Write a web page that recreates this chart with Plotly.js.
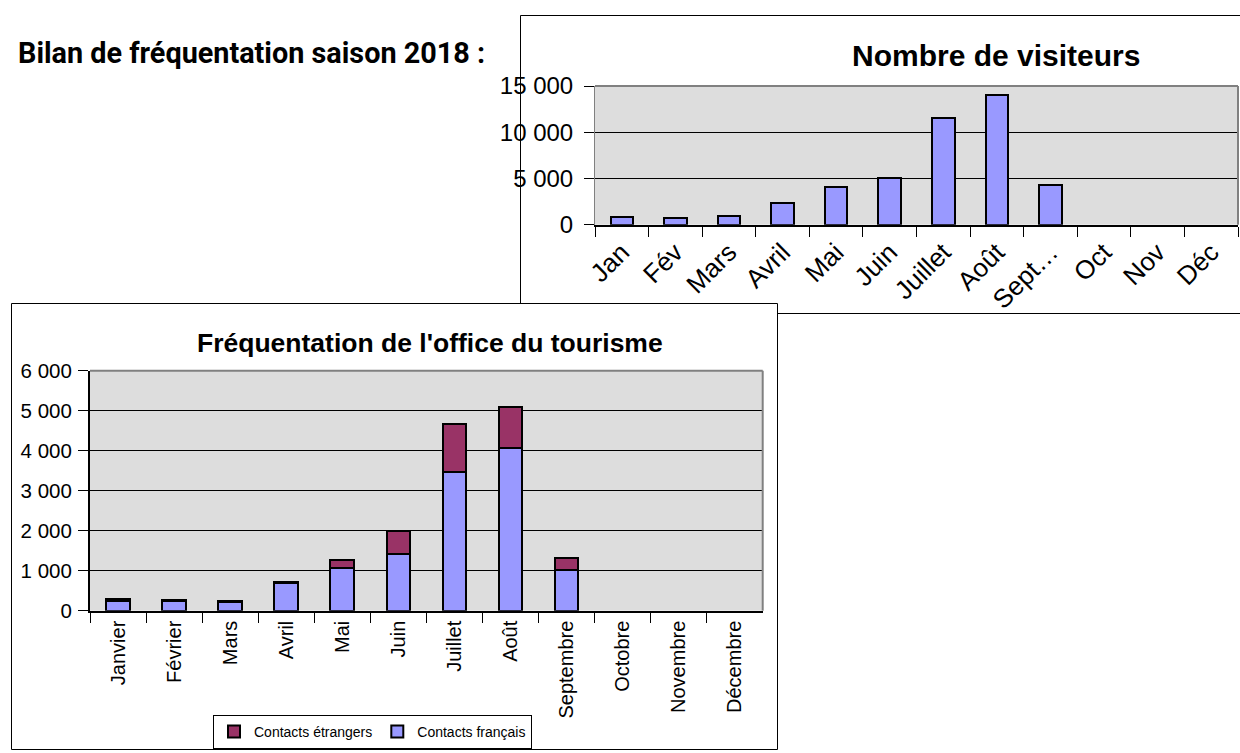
<!DOCTYPE html>
<html>
<head>
<meta charset="utf-8">
<script src="https://cdn.plot.ly/plotly-3.0.1.min.js"></script>
<style>html,body{margin:0;padding:0;background:#fff;}#chart{width:1240px;height:753px;}</style>
</head>
<body>
<div id="chart"></div>
<script>
// ---- Data ----
var moisCourts = ['Jan', 'Fév', 'Mars', 'Avril', 'Mai', 'Juin', 'Juillet', 'Août', 'Sept…', 'Oct', 'Nov', 'Déc'];
var visiteurs = [800, 700, 950, 2350, 4100, 5100, 11500, 14000, 4250, null, null, null];

var moisLongs = ['Janvier', 'Février', 'Mars', 'Avril', 'Mai', 'Juin', 'Juillet', 'Août', 'Septembre', 'Octobre', 'Novembre', 'Décembre'];
var contactsFrancais = [250, 240, 210, 690, 1060, 1430, 3480, 4080, 1030, null, null, null];
var contactsEtrangers = [40, 30, 30, 30, 210, 570, 1200, 1010, 300, null, null, null];

var titreGeneral = 'Bilan de fréquentation saison 2018 :';
var titreVisiteurs = 'Nombre de visiteurs';
var titreOffice = "Fréquentation de l'office du tourisme";

// ---- Helpers (pixel -> paper) ----
var W = 1240, H = 753;
function px(x) { return x / W; }
function py(y) { return 1 - y / H; }

var FONT = 'Liberation Sans, Arial, sans-serif';
var BLUE = '#9999FF', PLUM = '#993366', BG = '#DDDDDD';

var traces = [
  {
    type: 'bar', x: moisCourts, y: visiteurs, xaxis: 'x', yaxis: 'y',
    marker: {color: BLUE, line: {color: '#000', width: 2}},
    showlegend: false, name: 'Visiteurs'
  },
  {
    type: 'bar', x: moisLongs, y: contactsFrancais, xaxis: 'x2', yaxis: 'y2',
    marker: {color: BLUE, line: {color: '#000', width: 2}},
    name: 'Contacts français'
  },
  {
    type: 'bar', x: moisLongs, y: contactsEtrangers, xaxis: 'x2', yaxis: 'y2',
    marker: {color: PLUM, line: {color: '#000', width: 2}},
    name: 'Contacts étrangers'
  }
];

function lineShape(x0, y0, x1, y1, color, width) {
  return {type: 'line', xref: 'paper', yref: 'paper', x0: px(x0), y0: py(y0), x1: px(x1), y1: py(y1),
          line: {color: color, width: width}, layer: 'above'};
}

var layout = {
  width: W, height: H,
  margin: {l: 0, r: 0, t: 0, b: 0, pad: 0},
  paper_bgcolor: '#fff',
  plot_bgcolor: BG,
  separators: ', ',
  barmode: 'stack',
  bargap: 0.58,
  font: {family: FONT, color: '#000'},
  xaxis: {
    domain: [px(595), px(1238)], anchor: 'y', type: 'category',
    tickangle: -45, tickson: 'boundaries', ticks: 'outside', ticklen: 10, tickcolor: '#000', tickwidth: 1,
    tickfont: {family: FONT, size: 26, color: '#000'},
    showline: true, linecolor: '#000', linewidth: 2, showgrid: false, fixedrange: true
  },
  yaxis: {
    domain: [py(224.7), py(86)], anchor: 'x', range: [0, 15000], dtick: 5000, tickformat: ',d',
    ticks: 'outside', ticklen: 10, tickcolor: '#000', tickwidth: 1,
    tickfont: {family: FONT, size: 24, color: '#000'},
    showgrid: true, gridcolor: '#000', gridwidth: 1, zeroline: false,
    showline: true, linecolor: '#808080', linewidth: 1, ticklabelstandoff: 6, fixedrange: true
  },
  xaxis2: {
    domain: [px(90), px(762.7)], anchor: 'y2', type: 'category',
    tickangle: -90, tickson: 'boundaries', ticks: 'outside', ticklen: 10, tickcolor: '#000', tickwidth: 1,
    tickfont: {family: FONT, size: 20, color: '#000'},
    showline: true, linecolor: '#000', linewidth: 2, showgrid: false, fixedrange: true
  },
  yaxis2: {
    domain: [py(610.7), py(370.7)], anchor: 'x2', range: [0, 6000], dtick: 1000, tickformat: ',d',
    ticks: 'outside', ticklen: 10, tickcolor: '#000', tickwidth: 1,
    tickfont: {family: FONT, size: 20.5, color: '#000'},
    showgrid: true, gridcolor: '#000', gridwidth: 1, zeroline: false,
    showline: true, linecolor: '#000', linewidth: 2, ticklabelstandoff: 2, fixedrange: true
  },
  legend: {
    orientation: 'h', traceorder: 'reversed',
    x: px(213), y: py(715), xanchor: 'left', yanchor: 'top',
    bgcolor: '#fff', bordercolor: '#000', borderwidth: 1,
    font: {family: FONT, size: 14, color: '#000'}
  },
  annotations: [
    {text: '<b>' + titreGeneral + '</b>', xref: 'paper', yref: 'paper', x: px(16), y: py(53),
     xanchor: 'left', yanchor: 'middle', showarrow: false, font: {family: 'Roboto', size: 28.8, color: '#000'}},
    {text: '<b>' + titreVisiteurs + '</b>', xref: 'paper', yref: 'paper', x: px(850), y: py(55),
     xanchor: 'left', yanchor: 'middle', showarrow: false, font: {family: FONT, size: 30, color: '#000'}},
    {text: '<b>' + titreOffice + '</b>', xref: 'paper', yref: 'paper', x: px(195), y: py(343),
     xanchor: 'left', yanchor: 'middle', showarrow: false, font: {family: FONT, size: 26.5, color: '#000'}}
  ],
  shapes: [
    // upper chart frame (partly hidden behind lower frame)
    lineShape(520.5, 15.5, 1240, 15.5, '#000', 1),
    lineShape(520.5, 15.5, 520.5, 303.5, '#000', 1),
    lineShape(777.5, 313.5, 1240, 313.5, '#000', 1),
    // lower chart frame
    {type: 'rect', xref: 'paper', yref: 'paper', x0: px(11.5), y0: py(303.5), x1: px(777.5), y1: py(749.5),
     line: {color: '#000', width: 1}, layer: 'above'},
    // plot area borders (top and right, gray)
    {type: 'line', xref: 'x domain', yref: 'y domain', x0: 0, y0: 1, x1: 1, y1: 1, line: {color: '#808080', width: 2}},
    {type: 'line', xref: 'x domain', yref: 'y domain', x0: 1, y0: 0, x1: 1, y1: 1, line: {color: '#808080', width: 2}},
    {type: 'line', xref: 'x2 domain', yref: 'y2 domain', x0: 0, y0: 1, x1: 1, y1: 1, line: {color: '#808080', width: 2}},
    {type: 'line', xref: 'x2 domain', yref: 'y2 domain', x0: 1, y0: 0, x1: 1, y1: 1, line: {color: '#808080', width: 2}}
  ]
};

Plotly.newPlot('chart', traces, layout, {staticPlot: true, displayModeBar: false});
</script>
</body>
</html>
